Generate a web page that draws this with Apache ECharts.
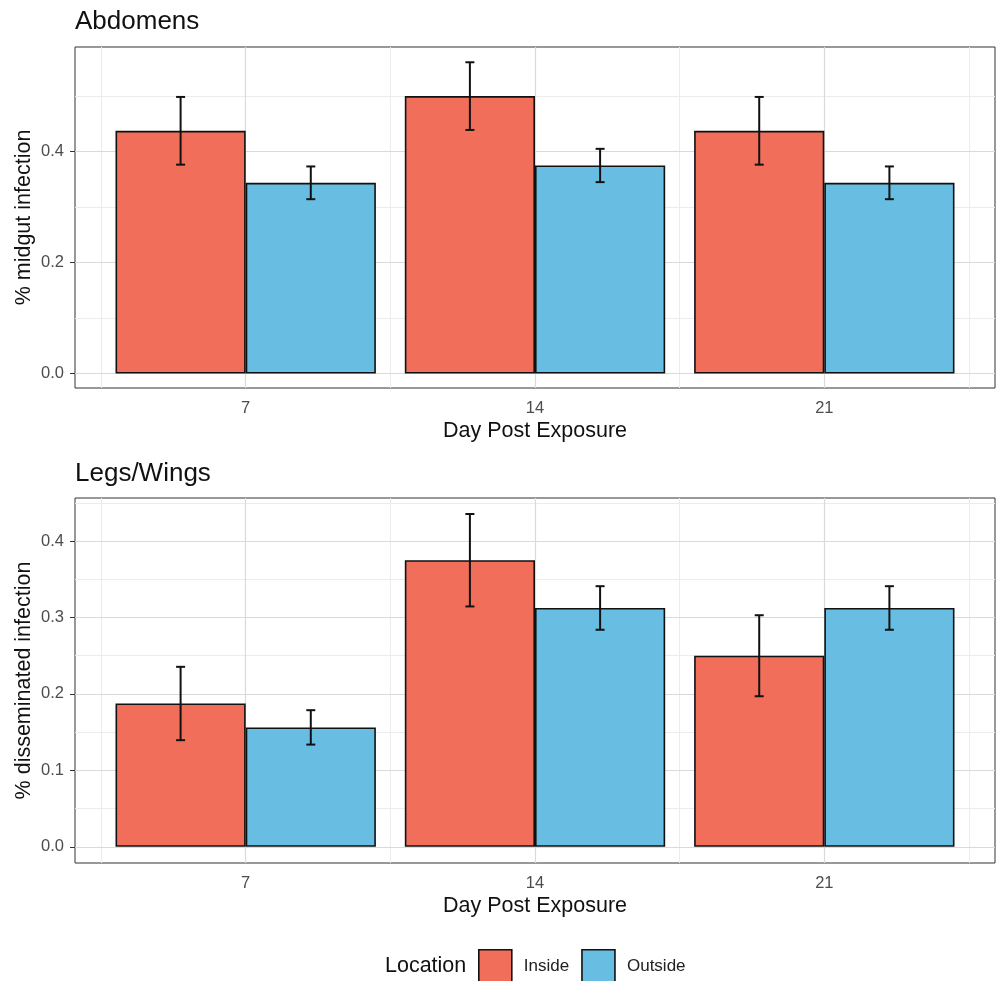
<!DOCTYPE html>
<html><head><meta charset="utf-8">
<script src="https://cdn.jsdelivr.net/npm/echarts@6/dist/echarts.min.js"></script>
<style>html,body{margin:0;padding:0;background:#fff}#c{width:996px;height:981px}</style>
</head><body><div id="c"></div>
<script>
// ---- data ----
const categories = ['7', '14', '21'];
const catPos = [1, 2, 3];
const seriesNames = ['Inside', 'Outside'];
const abdInside = [0.4375, 0.5, 0.4375];
const abdOutside = [0.34375, 0.375, 0.34375];
const abdInsideErr = [0.061, 0.061, 0.061];
const abdOutsideErr = [0.0295, 0.030, 0.0295];
const legInside = [0.1875, 0.375, 0.25];
const legOutside = [0.15625, 0.3125, 0.3125];
const legInsideErr = [0.048, 0.0605, 0.053];
const legOutsideErr = [0.0225, 0.0285, 0.0285];
const abdTicks = [0, 0.2, 0.4];
const abdMinorTicks = [0.1, 0.3, 0.5];
const legTicks = [0, 0.1, 0.2, 0.3, 0.4];
const legMinorTicks = [0.05, 0.15, 0.25, 0.35, 0.45];
const xMinorTicks = [0.5, 1.5, 2.5, 3.5];

// ---- style ----
const FONT = "'Liberation Sans', Arial, Helvetica, sans-serif";
const COL_IN = '#F06E5A', COL_OUT = '#67BEE2';
const MAJOR = '#dadada', MINOR = '#ececec';
const DODGE = 0.45;

function gridLines(major, minor) {
  const d = [];
  minor.forEach(v => d.push({ yAxis: v, lineStyle: { color: MINOR, width: 1 } }));
  xMinorTicks.forEach(v => d.push({ xAxis: v, lineStyle: { color: MINOR, width: 1 } }));
  major.forEach(v => d.push({ yAxis: v, lineStyle: { color: MAJOR, width: 1.2 } }));
  catPos.forEach(v => d.push({ xAxis: v, lineStyle: { color: MAJOR, width: 1.2 } }));
  return {
    silent: true, symbol: ['none', 'none'], label: { show: false }, z: 1,
    animation: false, emphasis: { disabled: true },
    lineStyle: { type: 'solid' }, data: d
  };
}

function renderErr(params, api) {
  const x = api.value(0) + api.value(3) * DODGE / 2;
  const lo = api.coord([x, api.value(1)]);
  const hi = api.coord([x, api.value(2)]);
  const w = 4.5;
  const style = { stroke: '#111', lineWidth: 2, fill: null };
  return {
    type: 'group', children: [
      { type: 'line', shape: { x1: lo[0], y1: lo[1], x2: hi[0], y2: hi[1] }, style },
      { type: 'line', shape: { x1: lo[0] - w, y1: lo[1], x2: lo[0] + w, y2: lo[1] }, style },
      { type: 'line', shape: { x1: hi[0] - w, y1: hi[1], x2: hi[0] + w, y2: hi[1] }, style }
    ]
  };
}

function errData(vIn, eIn, vOut, eOut) {
  const d = [];
  catPos.forEach((p, k) => {
    d.push([p, vIn[k] - eIn[k], vIn[k] + eIn[k], -1]);
    d.push([p, vOut[k] - eOut[k], vOut[k] + eOut[k], 1]);
  });
  return d;
}

function panelSeries(idx, vIn, eIn, vOut, eOut, major, minor) {
  return [
    {
      name: seriesNames[0], type: 'bar', xAxisIndex: idx, yAxisIndex: idx,
      data: catPos.map((p, k) => [p, vIn[k]]), barWidth: '45%', barGap: '0%', z: 2,
      itemStyle: { color: COL_IN, borderColor: '#111', borderWidth: 1.6 }
    },
    {
      name: seriesNames[1], type: 'bar', xAxisIndex: idx, yAxisIndex: idx,
      data: catPos.map((p, k) => [p, vOut[k]]), barWidth: '45%', barGap: '0%', z: 2,
      itemStyle: { color: COL_OUT, borderColor: '#111', borderWidth: 1.6 }
    },
    {
      name: 'err' + idx, type: 'custom', xAxisIndex: idx, yAxisIndex: idx, z: 3,
      renderItem: renderErr, encode: { x: 0, y: [1, 2] },
      data: errData(vIn, eIn, vOut, eOut),
      markLine: gridLines(major, minor)
    }
  ];
}

function xAxis(idx) {
  return {
    type: 'value', gridIndex: idx, min: 0.41, max: 3.59,
    axisLine: { show: false }, splitLine: { show: false },
    axisTick: { show: true, customValues: catPos, length: 5, lineStyle: { color: '#333', width: 1 } },
    axisLabel: { customValues: catPos, formatter: v => categories[catPos.indexOf(v)],
      color: '#4d4d4d', fontSize: 16.5, fontFamily: FONT, margin: 12 },
    name: 'Day Post Exposure', nameLocation: 'middle', nameGap: 32, nameMoveOverlap: false,
    nameTextStyle: { fontSize: 21.5, color: '#111', fontFamily: FONT }
  };
}

function yAxis(idx, min, max, ticks, name) {
  return {
    type: 'value', gridIndex: idx, min: min, max: max,
    axisLine: { show: false }, splitLine: { show: false },
    axisTick: { show: true, customValues: ticks, length: 5, lineStyle: { color: '#333', width: 1 } },
    axisLabel: { customValues: ticks, formatter: v => v.toFixed(1),
      color: '#4d4d4d', fontSize: 16.5, fontFamily: FONT, margin: 11 },
    name: name, nameLocation: 'middle', nameGap: 40, nameMoveOverlap: false,
    nameTextStyle: { fontSize: 21.5, color: '#111', fontFamily: FONT }
  };
}

const chart = echarts.init(document.getElementById('c'), null, { renderer: 'canvas' });
chart.setOption({
  animation: false,
  backgroundColor: '#fff',
  title: [
    { text: 'Abdomens', left: 75, top: 9, padding: 0,
      textStyle: { fontSize: 26, fontWeight: 'normal', color: '#111', fontFamily: FONT } },
    { text: 'Legs/Wings', left: 75, top: 461, padding: 0,
      textStyle: { fontSize: 26, fontWeight: 'normal', color: '#111', fontFamily: FONT } },
    { text: 'Location', left: 385, top: 955, padding: 0,
      textStyle: { fontSize: 21.5, fontWeight: 'normal', color: '#111', fontFamily: FONT } }
  ],
  legend: {
    data: seriesNames, left: 478, top: 949, padding: 0, orient: 'horizontal',
    itemWidth: 33, itemHeight: 33, itemGap: 12, icon: 'rect', selectedMode: false,
    itemStyle: { borderColor: '#111', borderWidth: 1.6 },
    textStyle: { fontSize: 17, color: '#222', fontFamily: FONT, padding: [0, 0, 0, 7] }
  },
  grid: [
    { left: 75, top: 47, width: 920, height: 341, show: true, borderColor: '#333', borderWidth: 1, backgroundColor: 'transparent' },
    { left: 75, top: 498, width: 920, height: 365, show: true, borderColor: '#333', borderWidth: 1, backgroundColor: 'transparent' }
  ],
  xAxis: [xAxis(0), xAxis(1)],
  yAxis: [
    yAxis(0, -0.026, 0.5885, abdTicks, '% midgut infection'),
    yAxis(1, -0.0212, 0.4564, legTicks, '% disseminated infection')
  ],
  series: [].concat(
    panelSeries(0, abdInside, abdInsideErr, abdOutside, abdOutsideErr, abdTicks, abdMinorTicks),
    panelSeries(1, legInside, legInsideErr, legOutside, legOutsideErr, legTicks, legMinorTicks)
  )
});
</script>
</body></html>
